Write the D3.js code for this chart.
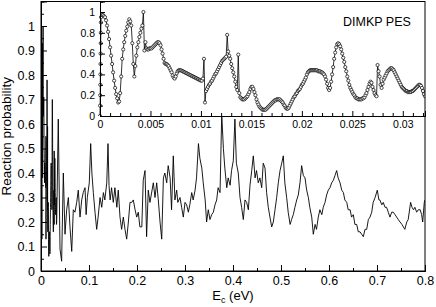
<!DOCTYPE html>
<html>
<head>
<meta charset="utf-8">
<script src="https://cdn.jsdelivr.net/npm/d3@7"></script>
<style>
  body { margin: 0; background: #fff; }
  svg text { font-family: "Liberation Sans", Arial, Helvetica, sans-serif; fill: #000; }
</style>
</head>
<body>
<svg id="chart" width="436" height="307"></svg>
<script>
// ---- data ----

// stacked points right at threshold (E, P)
const headE = [0, 0.00001, 0.00002, 0.00003, 0.00004, 0.00005, 0.00006, 0.00007, 0.00008, 0.00009]
const headP = [0.0, 0.1, 0.2, 0.3, 0.4, 0.5, 0.6, 0.7, 0.8, 0.9]

// low-energy scan, one value every 0.0001 eV starting at 0.0001
const lowStart = 0.0001
const lowStep = 0.0001
const lowP = [
  0.95, 0.97, 0.97, 0.96, 0.95, 0.92, 0.87, 0.81, 0.74, 0.66,
  0.58, 0.50, 0.42, 0.34, 0.27, 0.21, 0.17, 0.13, 0.14, 0.22,
  0.38, 0.55, 0.64, 0.71, 0.77, 0.82, 0.86, 0.90, 0.93, 0.91,
  0.87, 0.70, 0.50, 0.38, 0.48, 0.58, 0.66, 0.71, 0.76, 0.80,
  0.84, 0.87, 1.00, 0.63, 0.71, 0.65, 0.64, 0.64, 0.65, 0.65,
  0.65, 0.66, 0.67, 0.68, 0.69, 0.70, 0.71, 0.71, 0.70, 0.68,
  0.64, 0.60, 0.55, 0.51, 0.50, 0.50, 0.49, 0.48, 0.46, 0.44,
  0.42, 0.39, 0.37, 0.36, 0.38, 0.41, 0.43, 0.44, 0.44, 0.44,
  0.435, 0.43, 0.425, 0.42, 0.415, 0.41, 0.405, 0.40, 0.395, 0.39,
  0.385, 0.38, 0.375, 0.37, 0.365, 0.36, 0.355, 0.35, 0.345, 0.34,
  0.34, 0.36, 0.55, 0.13, 0.24, 0.26, 0.28, 0.30, 0.31, 0.33,
  0.34, 0.36, 0.38, 0.40, 0.41, 0.43, 0.45, 0.47, 0.49, 0.51,
  0.53, 0.54, 0.55, 0.56, 0.57, 0.78, 0.62, 0.58, 0.55, 0.50,
  0.46, 0.42, 0.38, 0.33, 0.28, 0.25, 0.59, 0.22, 0.18, 0.17,
  0.16, 0.16, 0.16, 0.17, 0.18, 0.19, 0.21, 0.23, 0.26, 0.28,
  0.28, 0.26, 0.23, 0.20, 0.16, 0.13, 0.11, 0.09, 0.08, 0.07,
  0.06, 0.06, 0.06, 0.06, 0.07, 0.08, 0.09, 0.10, 0.11, 0.12,
  0.13, 0.14, 0.15, 0.15, 0.16, 0.16, 0.16, 0.16, 0.15, 0.14,
  0.13, 0.11, 0.10, 0.08, 0.07, 0.07, 0.08, 0.10, 0.12, 0.14,
  0.16, 0.18, 0.19, 0.21, 0.22, 0.24, 0.25, 0.26, 0.28, 0.30,
  0.31, 0.33, 0.35, 0.37, 0.40, 0.42, 0.43, 0.44, 0.44, 0.44,
  0.44, 0.44, 0.44, 0.44, 0.44, 0.43, 0.43, 0.43, 0.42, 0.42,
  0.41, 0.40, 0.38, 0.35, 0.31, 0.27, 0.25, 0.27, 0.33, 0.40,
  0.47, 0.55, 0.61, 0.66, 0.69, 0.70, 0.69, 0.67, 0.64, 0.60,
  0.56, 0.52, 0.47, 0.43, 0.38, 0.34, 0.30, 0.27, 0.25, 0.23,
  0.21, 0.20, 0.18, 0.17, 0.17, 0.16, 0.16, 0.16, 0.16, 0.17,
  0.17, 0.18, 0.20, 0.22, 0.25, 0.28, 0.31, 0.33, 0.32, 0.28,
  0.25, 0.22, 0.20, 0.19, 0.49, 0.43, 0.38, 0.30, 0.27, 0.31,
  0.35, 0.37, 0.39, 0.41, 0.43, 0.44, 0.45, 0.46, 0.46, 0.45,
  0.44, 0.42, 0.40, 0.38, 0.36, 0.34, 0.32, 0.30, 0.28, 0.27,
  0.26, 0.25, 0.24, 0.24, 0.23, 0.23, 0.23, 0.23, 0.24, 0.24,
  0.25, 0.26, 0.27, 0.28, 0.29, 0.30, 0.30, 0.29, 0.27, 0.24,
  0.21, 0.19
]

// rest of the main curve (E in eV, P)
const tailE = [
  0.0327, 0.036, 0.0396, 0.043, 0.0465, 0.050, 0.0535, 0.057, 0.0604, 0.064,
  0.0673, 0.0708, 0.0744, 0.0777, 0.0813, 0.0848, 0.088, 0.0917, 0.094, 0.0965,
  0.1006, 0.1035, 0.106, 0.109, 0.1125, 0.116, 0.119, 0.123, 0.1265, 0.130,
  0.133, 0.137, 0.1396, 0.1417, 0.144, 0.147, 0.1506, 0.154, 0.158, 0.161,
  0.1646, 0.168, 0.1715, 0.175, 0.1785, 0.182, 0.1854, 0.189, 0.1923, 0.196,
  0.1994, 0.2027, 0.206, 0.210, 0.213, 0.2167, 0.220, 0.2235, 0.227, 0.234,
  0.2375, 0.241, 0.2444, 0.248, 0.2515, 0.255, 0.258, 0.2619, 0.265, 0.269,
  0.272, 0.2756, 0.279, 0.2827, 0.285, 0.2896, 0.293, 0.2965, 0.300, 0.3035,
  0.307, 0.310, 0.314, 0.317, 0.321, 0.324, 0.328, 0.331, 0.335, 0.338,
  0.342, 0.345, 0.3485, 0.352, 0.3556, 0.359, 0.3625, 0.366, 0.369, 0.373,
  0.3765, 0.380, 0.383, 0.387, 0.390, 0.394, 0.397, 0.4006, 0.404, 0.407,
  0.411, 0.4146, 0.418, 0.4215, 0.425, 0.4285, 0.432, 0.4354, 0.439, 0.4423,
  0.446, 0.449, 0.4527, 0.456, 0.4598, 0.463, 0.4667, 0.470, 0.4735, 0.477,
  0.4806, 0.484, 0.4875, 0.491, 0.4944, 0.498, 0.5015, 0.5048, 0.508, 0.5118,
  0.515, 0.519, 0.522, 0.5256, 0.529, 0.5327, 0.536, 0.5396, 0.543, 0.5465,
  0.550, 0.5535, 0.557, 0.560, 0.564, 0.5673, 0.571, 0.574, 0.5777, 0.581,
  0.585, 0.588, 0.5917, 0.595, 0.5985, 0.602, 0.6056, 0.609, 0.6125, 0.616,
  0.619, 0.623, 0.6265, 0.630, 0.633, 0.637, 0.640, 0.644, 0.647, 0.6506,
  0.654, 0.6577, 0.661, 0.6646, 0.668, 0.6715, 0.675, 0.6785, 0.682, 0.6854,
  0.689, 0.692, 0.696, 0.7006, 0.704, 0.706, 0.710, 0.713, 0.7167, 0.720,
  0.7235, 0.727, 0.7306, 0.734, 0.7375, 0.741, 0.7444, 0.748, 0.752, 0.758,
  0.762, 0.765, 0.770, 0.773, 0.776, 0.779, 0.7826, 0.786, 0.790, 0.793,
  0.7952, 0.7985, 0.800
]
const tailP = [
  0.20, 0.62, 0.09, 0.04, 0.40, 0.15, 0.25, 0.30, 0.18, 0.08,
  0.25, 0.24, 0.28, 0.33, 0.22, 0.29, 0.32, 0.34, 0.23, 0.30,
  0.36, 0.52, 0.40, 0.32, 0.24, 0.17, 0.22, 0.30, 0.26, 0.32,
  0.29, 0.36, 0.52, 0.35, 0.29, 0.34, 0.28, 0.34, 0.26, 0.33,
  0.22, 0.17, 0.22, 0.17, 0.13, 0.20, 0.28, 0.28, 0.29, 0.25,
  0.22, 0.24, 0.18, 0.18, 0.37, 0.41, 0.14, 0.33, 0.28, 0.36,
  0.30, 0.36, 0.29, 0.20, 0.13, 0.38, 0.40, 0.36, 0.43, 0.38,
  0.25, 0.47, 0.29, 0.33, 0.28, 0.30, 0.26, 0.22, 0.28, 0.27,
  0.24, 0.27, 0.32, 0.29, 0.33, 0.38, 0.52, 0.46, 0.42, 0.36,
  0.29, 0.20, 0.25, 0.21, 0.23, 0.24, 0.27, 0.29, 0.34, 0.32,
  0.64, 0.50, 0.42, 0.34, 0.38, 0.35, 0.41, 0.45, 0.62, 0.44,
  0.40, 0.30, 0.26, 0.21, 0.29, 0.28, 0.25, 0.35, 0.41, 0.47,
  0.38, 0.41, 0.36, 0.38, 0.34, 0.44, 0.42, 0.32, 0.26, 0.22,
  0.18, 0.20, 0.25, 0.30, 0.36, 0.41, 0.44, 0.47, 0.36, 0.30,
  0.24, 0.19, 0.21, 0.23, 0.26, 0.29, 0.31, 0.36, 0.43, 0.39,
  0.38, 0.33, 0.30, 0.26, 0.22, 0.15, 0.19, 0.17, 0.22, 0.25,
  0.23, 0.26, 0.28, 0.31, 0.33, 0.34, 0.36, 0.37, 0.39, 0.41,
  0.38, 0.36, 0.33, 0.32, 0.29, 0.28, 0.25, 0.25, 0.22, 0.23,
  0.19, 0.19, 0.16, 0.16, 0.15, 0.14, 0.17, 0.17, 0.21, 0.22,
  0.24, 0.28, 0.30, 0.33, 0.29, 0.29, 0.27, 0.28, 0.26, 0.26,
  0.24, 0.22, 0.24, 0.24, 0.23, 0.22, 0.21, 0.20, 0.19, 0.17,
  0.20, 0.21, 0.28, 0.26, 0.25, 0.26, 0.24, 0.25, 0.25, 0.23,
  0.20, 0.28, 0.29
]

// tick labels
const mainXTicks = [0, 0.1, 0.2, 0.3, 0.4, 0.5, 0.6, 0.7, 0.8]
const mainYTicks = [0, 0.1, 0.2, 0.3, 0.4, 0.5, 0.6, 0.7, 0.8, 0.9, 1]
const insetXTicks = [0, 0.005, 0.01, 0.015, 0.02, 0.025, 0.03]
const insetYTicks = [0, 0.2, 0.4, 0.6, 0.8, 1]

// ---- build point lists ----
const head = headE.map((e, i) => [e, headP[i]])
const low = lowP.map((p, i) => [lowStart + i * lowStep, p])
const tail = tailE.map((e, i) => [e, tailP[i]])
const insetPts = head.concat(low)
const mainPts = insetPts.concat(tail)

const svg = d3.select("#chart")
const fmt = d => String(+d.toFixed(3))

// ---- main panel ----
const x = d3.scaleLinear().domain([0, 0.8]).range([41, 425])
const y = d3.scaleLinear().domain([0, 1.1]).range([271, 1.5])

svg.append("clipPath").attr("id", "mainClip")
  .append("rect")
  .attr("x", x(0)).attr("y", y(1.1))
  .attr("width", x(0.8) - x(0)).attr("height", y(0) - y(1.1))

svg.append("path")
  .datum(mainPts)
  .attr("clip-path", "url(#mainClip)")
  .attr("fill", "none")
  .attr("stroke", "#000")
  .attr("stroke-width", 0.9)
  .attr("stroke-linejoin", "round")
  .attr("d", d3.line().x(d => x(d[0])).y(d => y(d[1])))

// minor ticks first, then labelled major ticks (pointing inward)
svg.append("g")
  .attr("transform", `translate(0,${y(0)})`)
  .call(d3.axisBottom(x).tickValues([0.05, 0.15, 0.25, 0.35, 0.45, 0.55, 0.65, 0.75]).tickSize(-3).tickFormat(""))
svg.append("g")
  .attr("class", "mainX")
  .attr("transform", `translate(0,${y(0)})`)
  .call(d3.axisBottom(x).tickValues(mainXTicks).tickSize(-6).tickPadding(5).tickFormat(fmt))
svg.append("g")
  .attr("transform", `translate(${x(0)},0)`)
  .call(d3.axisLeft(y).tickValues([0.05, 0.15, 0.25, 0.35, 0.45, 0.55, 0.65, 0.75, 0.85, 0.95, 1.05]).tickSize(-3).tickFormat(""))
svg.append("g")
  .attr("class", "mainY")
  .attr("transform", `translate(${x(0)},0)`)
  .call(d3.axisLeft(y).tickValues(mainYTicks).tickSize(-6).tickPadding(6).tickFormat(fmt))

svg.selectAll(".mainX text, .mainY text").style("font-size", "12.5px")

// axis titles
const xt = svg.append("text")
  .attr("x", x(0.4)).attr("y", 300)
  .attr("text-anchor", "middle")
  .style("font-size", "13px")
xt.append("tspan").text("E")
xt.append("tspan").text("c").attr("dy", 3).style("font-size", "9px")
xt.append("tspan").text(" (eV)").attr("dy", -3)

svg.append("text")
  .attr("transform", `translate(11,${(y(0) + y(1.1)) / 2}) rotate(-90)`)
  .attr("text-anchor", "middle")
  .style("font-size", "13.5px")
  .text("Reaction probability")

// ---- inset panel ----
const ix = d3.scaleLinear().domain([0, 0.0322]).range([100, 425])
const iy = d3.scaleLinear().domain([0, 1.1]).range([116, 1.6])

svg.append("rect")
  .attr("x", ix(0)).attr("y", iy(1.1))
  .attr("width", ix(0.0322) - ix(0)).attr("height", iy(0) - iy(1.1))
  .attr("fill", "#fff")

svg.append("clipPath").attr("id", "insetClip")
  .append("rect")
  .attr("x", ix(0) - 2).attr("y", iy(1.1))
  .attr("width", ix(0.0322) - ix(0) + 2).attr("height", iy(0) - iy(1.1))

const ig = svg.append("g").attr("clip-path", "url(#insetClip)")
ig.append("path")
  .datum(insetPts)
  .attr("fill", "none")
  .attr("stroke", "#000")
  .attr("stroke-width", 0.8)
  .attr("d", d3.line().x(d => ix(d[0])).y(d => iy(d[1])))
ig.selectAll("circle")
  .data(insetPts)
  .join("circle")
  .attr("cx", d => ix(d[0]))
  .attr("cy", d => iy(d[1]))
  .attr("r", 1.6)
  .attr("fill", "#fff")
  .attr("stroke", "#000")
  .attr("stroke-width", 0.7)

svg.append("g")
  .attr("transform", `translate(0,${iy(0)})`)
  .call(d3.axisBottom(ix).tickValues(d3.range(0, 33).filter(k => k % 5 != 0).map(k => k / 1000)).tickSize(-3).tickFormat(""))
svg.append("g")
  .attr("class", "insetX")
  .attr("transform", `translate(0,${iy(0)})`)
  .call(d3.axisBottom(ix).tickValues(insetXTicks).tickSize(-5).tickPadding(5).tickFormat(fmt))
svg.append("g")
  .attr("transform", `translate(${ix(0)},0)`)
  .call(d3.axisLeft(iy).tickValues([0.1, 0.3, 0.5, 0.7, 0.9]).tickSize(-3).tickFormat(""))
svg.append("g")
  .attr("class", "insetY")
  .attr("transform", `translate(${ix(0)},0)`)
  .call(d3.axisLeft(iy).tickValues(insetYTicks).tickSize(-5).tickPadding(5).tickFormat(fmt))

svg.selectAll(".insetX text, .insetY text").style("font-size", "10.5px")

svg.append("text")
  .attr("x", 343).attr("y", 26)
  .style("font-size", "12.5px")
  .text("DIMKP PES")

// frame on top of everything
svg.append("rect")
  .attr("x", x(0)).attr("y", y(1.1))
  .attr("width", x(0.8) - x(0)).attr("height", y(0) - y(1.1))
  .attr("fill", "none")
  .attr("stroke", "#000")
  .attr("stroke-width", 1)

svg.selectAll(".domain").attr("stroke", "#000")
svg.selectAll(".tick line").attr("stroke", "#000")
</script>
</body>
</html>
